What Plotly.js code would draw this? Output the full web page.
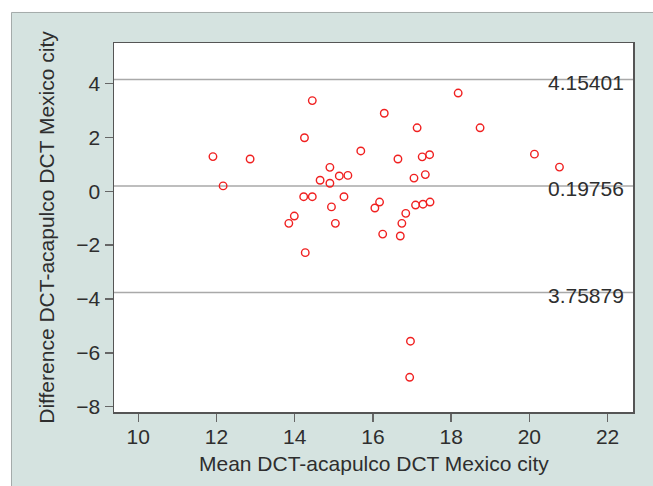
<!DOCTYPE html>
<html>
<head>
<meta charset="utf-8">
<script src="https://cdn.plot.ly/plotly-3.0.1.min.js"></script>
<style>
  html, body { margin: 0; padding: 0; background: #ffffff; }
  #chart { width: 653px; height: 486px; }
</style>
</head>
<body>
<div id="chart"></div>
<script>
// Mean of the two measurements (x) and their difference (y)
const meanValues = [
  14.45, 16.29, 17.13, 14.25, 15.69, 16.64, 17.26, 17.45, 14.90, 15.14,
  15.36, 14.65, 14.90, 17.05, 17.34, 14.23, 14.45, 15.26, 14.94, 16.17,
  16.05, 17.09, 17.28, 17.46, 16.84, 13.99, 13.85, 15.04, 16.74, 16.25,
  16.70, 14.27, 11.91, 12.86, 12.17, 18.18, 18.74, 20.13, 20.77, 16.96,
  16.94
];
const diffValues = [
  3.37, 2.90, 2.36, 1.99, 1.50, 1.20, 1.28, 1.36, 0.89, 0.57,
  0.59, 0.41, 0.30, 0.49, 0.62, -0.20, -0.20, -0.20, -0.58, -0.40,
  -0.62, -0.51, -0.48, -0.40, -0.82, -0.92, -1.19, -1.19, -1.19, -1.59,
  -1.66, -2.28, 1.29, 1.20, 0.20, 3.65, 2.36, 1.38, 0.90, -5.57,
  -6.91
];
// Reference lines (upper limit, mean difference, lower limit) and their printed labels
const refValues = [4.15401, 0.19756, -3.75879];
const refLabels = ["4.15401", "0.19756", "3.75879"];
const xTicks = [10, 12, 14, 16, 18, 20, 22];
const yTicks = [-8, -6, -4, -2, 0, 2, 4];
const yTickLabels = ["\u22128", "\u22126", "\u22124", "\u22122", "0", "2", "4"];
const xTitle = 'Mean DCT-acapulco DCT Mexico city';
const yTitle = 'Difference DCT-acapulco DCT Mexico city';

const FONT = '"Liberation Sans", Arial, Helvetica, sans-serif';
const TEXT = '#2e2e2e';

const shapes = [
  // outer light panel with border
  { type: 'rect', xref: 'paper', yref: 'paper', x0: -0.1975, x1: 1.1, y0: -0.3, y1: 1.0827,
    fillcolor: '#d5e3e0', line: { color: '#a3aaa9', width: 1 }, layer: 'below' },
  // white plot area
  { type: 'rect', xref: 'paper', yref: 'paper', x0: 0, x1: 1, y0: 0, y1: 1,
    fillcolor: '#ffffff', line: { width: 0 }, layer: 'below' }
];
refValues.forEach(v => shapes.push({
  type: 'line', xref: 'paper', yref: 'y', x0: 0, x1: 1, y0: v, y1: v,
  line: { color: '#a9a9a9', width: 1.5 }, layer: 'below'
}));

const annotations = refValues.map((v, i) => ({
  xref: 'paper', yref: 'y', x: 1, y: v, xshift: -7, yshift: -3,
  xanchor: 'right', yanchor: 'middle', showarrow: false,
  text: refLabels[i], font: { family: FONT, size: 21, color: TEXT }
}));
// axis titles
annotations.push({
  xref: 'paper', yref: 'paper', x: 0.5, y: -0.1409, xanchor: 'center', yanchor: 'middle',
  showarrow: false, text: xTitle, font: { family: FONT, size: 21, color: TEXT }
});
annotations.push({
  xref: 'paper', yref: 'paper', x: -0.1291, y: 0.502, xanchor: 'center', yanchor: 'middle',
  textangle: -90, showarrow: false, text: yTitle, font: { family: FONT, size: 21, color: TEXT }
});

const trace = {
  x: meanValues, y: diffValues, type: 'scatter', mode: 'markers',
  marker: { symbol: 'circle-open', size: 7.5, color: '#f02020', line: { width: 1.4, color: '#f02020' } },
  hoverinfo: 'x+y'
};

const layout = {
  width: 653, height: 486,
  margin: { l: 114, r: 20, t: 43, b: 74, pad: 0 },
  paper_bgcolor: '#ffffff', plot_bgcolor: '#ffffff',
  font: { family: FONT, size: 21, color: TEXT },
  showlegend: false,
  xaxis: {
    range: [9.38, 22.65], tickvals: xTicks, ticks: 'outside', ticklen: 8, tickwidth: 1.5,
    tickcolor: '#666', showline: true, linecolor: '#555', linewidth: 1.5, mirror: true,
    showgrid: false, zeroline: false, ticklabelstandoff: -3,
    tickfont: { family: FONT, size: 21, color: TEXT }
  },
  yaxis: {
    range: [-8.20, 5.51], tickvals: yTicks, ticktext: yTickLabels, ticks: 'outside', ticklen: 8, tickwidth: 1.5,
    tickcolor: '#666', showline: true, linecolor: '#555', linewidth: 1.5, mirror: true,
    showgrid: false, zeroline: false, tickfont: { family: FONT, size: 21, color: TEXT }
  },
  shapes: shapes,
  annotations: annotations
};

Plotly.newPlot('chart', [trace], layout, { staticPlot: true, displayModeBar: false });
</script>
</body>
</html>
